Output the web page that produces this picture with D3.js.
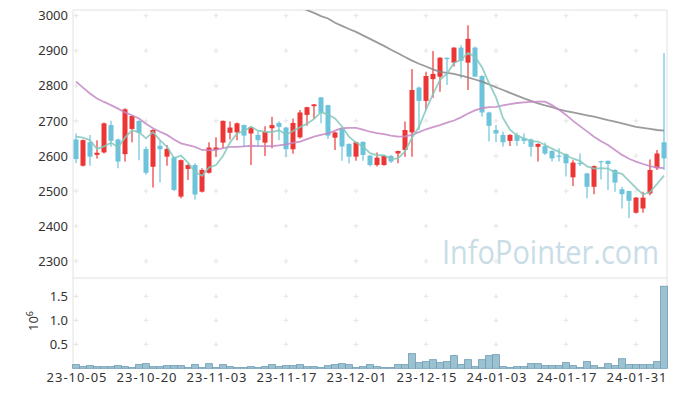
<!DOCTYPE html>
<html>
<head>
<meta charset="utf-8">
<script src="https://cdn.jsdelivr.net/npm/d3@7"></script>
<style>
  body { margin: 0; background: #fff; }
  text { font-family: "Noto Sans", sans-serif; fill: #333; }
</style>
</head>
<body>
<div id="container"></div>
<script>
var width = 677,
    height = 396;

// trading days
var dates = ["23-10-05","23-10-06","23-10-10","23-10-11","23-10-12","23-10-13","23-10-16","23-10-17","23-10-18","23-10-19",
  "23-10-20","23-10-23","23-10-24","23-10-25","23-10-26","23-10-27","23-10-30","23-10-31","23-11-01","23-11-02",
  "23-11-03","23-11-06","23-11-07","23-11-08","23-11-09","23-11-10","23-11-13","23-11-14","23-11-15","23-11-16",
  "23-11-17","23-11-20","23-11-21","23-11-22","23-11-23","23-11-24","23-11-27","23-11-28","23-11-29","23-11-30",
  "23-12-01","23-12-04","23-12-05","23-12-06","23-12-07","23-12-08","23-12-11","23-12-12","23-12-13","23-12-14",
  "23-12-15","23-12-18","23-12-19","23-12-20","23-12-21","23-12-22","23-12-26","23-12-27","23-12-28","24-01-02",
  "24-01-03","24-01-04","24-01-05","24-01-08","24-01-09","24-01-10","24-01-11","24-01-12","24-01-15","24-01-16",
  "24-01-17","24-01-18","24-01-19","24-01-22","24-01-23","24-01-24","24-01-25","24-01-26","24-01-29","24-01-30",
  "24-01-31","24-02-01","24-02-02","24-02-05","24-02-06"];

var open = [2647,2572,2639,2603,2610,2688,2647,2605,2677,2700, 2620,2569,2629,2598,2596,2484,2563,2574,2498,2552,
  2617,2638,2666,2667,2688,2664,2660,2638,2679,2694, 2681,2619,2653,2717,2742,2767,2745,2652,2679,2634,
  2598,2640,2601,2574,2574,2600,2607,2617,2667,2795, 2757,2819,2826,2880,2866,2909,2866,2909,2828,2724,
  2674,2660,2643,2660,2650,2647,2626,2628,2614,2601, 2605,2539,2580,2550,2512,2585,2586,2560,2505,2500,
  2438,2450,2493,2565,2639];
var high = [2664,2647,2660,2645,2695,2700,2650,2736,2716,2702, 2627,2676,2643,2631,2598,2590,2576,2579,2565,2639,
  2653,2701,2698,2695,2690,2685,2671,2685,2712,2699, 2683,2707,2731,2740,2748,2768,2746,2669,2680,2636,
  2641,2642,2603,2610,2602,2603,2615,2698,2848,2798, 2840,2899,2882,2881,2910,2916,2973,2912,2830,2726,
  2688,2669,2662,2666,2664,2650,2636,2638,2616,2622, 2607,2588,2607,2552,2573,2586,2587,2562,2512,2501,
  2483,2498,2590,2617,2893];
var low = [2579,2570,2572,2593,2607,2626,2565,2584,2639,2588, 2546,2510,2524,2572,2500,2479,2531,2476,2496,2550,
  2598,2622,2647,2645,2626,2574,2626,2600,2622,2645, 2598,2606,2650,2686,2706,2693,2648,2617,2586,2579,
  2586,2586,2570,2570,2572,2580,2579,2598,2598,2674, 2731,2766,2783,2802,2855,2821,2788,2826,2712,2641,
  2639,2626,2628,2628,2634,2598,2584,2603,2584,2584, 2541,2514,2571,2479,2491,2533,2503,2498,2450,2422,
  2436,2438,2488,2560,2560];
var close = [2591,2645,2598,2609,2693,2643,2584,2733,2714,2666, 2552,2674,2619,2620,2503,2588,2574,2490,2560,2624,
  2624,2700,2681,2693,2658,2681,2645,2669,2688,2683, 2619,2694,2724,2739,2747,2723,2658,2667,2627,2598,
  2639,2603,2574,2595,2600,2584,2614,2674,2788,2757, 2828,2834,2880,2876,2909,2871,2934,2826,2724,2686,
  2664,2639,2660,2643,2643,2626,2634,2607,2593,2598, 2579,2581,2578,2512,2571,2583,2577,2524,2491,2472,
  2481,2481,2560,2607,2593];

// moving average lines
var ma5 = [2655,2652,2645,2620,2627,2638,2625,2652,2673,2668, 2650,2668,2645,2626,2594,2601,2581,2555,2543,2567,
  2574,2600,2638,2664,2671,2683,2672,2669,2668,2673, 2661,2671,2682,2692,2705,2725,2718,2707,2684,2655,
  2638,2627,2608,2602,2602,2591,2593,2613,2652,2683, 2732,2776,2817,2835,2865,2874,2894,2883,2853,2808,
  2767,2708,2675,2658,2650,2642,2641,2631,2621,2612, 2602,2592,2586,2570,2564,2565,2564,2553,2549,2529,
  2509,2490,2497,2520,2544];
var ma20 = [2812,2795,2778,2764,2754,2745,2735,2724,2716,2707, 2692,2679,2669,2660,2647,2636,2631,2626,2617,2616,
  2617,2622,2626,2626,2627,2629,2628,2628,2628,2630, 2633,2637,2641,2648,2655,2660,2664,2672,2679,2680,
  2680,2675,2669,2665,2662,2658,2655,2656,2660,2668, 2676,2682,2688,2695,2701,2710,2721,2730,2736,2739,
  2740,2744,2748,2751,2753,2754,2755,2755,2745,2732, 2717,2700,2685,2670,2655,2642,2631,2617,2603,2592,
  2584,2577,2571,2567,2565];
var ma60Start = 30;
var ma60 = [3040,3030,3024,3016,3008,2999,2992,2980,2971,2962, 2954,2944,2934,2924,2914,2903,2893,2882,2872,2863,
  2855,2847,2840,2837,2834,2829,2824,2818,2812,2804, 2796,2788,2780,2772,2764,2757,2750,2744,2739,2733,
  2728,2724,2720,2716,2712,2707,2702,2698,2693,2688, 2683,2680,2677,2674,2672];

// volume, millions
var volume = [0.077,0.035,0.056,0.035,0.035,0.035,0.056,0.035,0.014,0.077, 0.097,0.035,0.035,0.056,0.056,0.056,0.014,0.077,0.014,0.097,
  0.014,0.077,0.035,0.014,0.014,0.035,0.014,0.035,0.077,0.035, 0.056,0.056,0.077,0.035,0.035,0.014,0.056,0.077,0.097,0.077,
  0.014,0.035,0.077,0.035,0.014,0.014,0.077,0.077,0.306,0.118, 0.139,0.18,0.118,0.139,0.264,0.077,0.18,0.035,0.18,0.264,
  0.285,0.035,0.014,0.035,0.035,0.097,0.097,0.056,0.056,0.056, 0.118,0.056,0.014,0.139,0.056,0.014,0.097,0.056,0.2,0.077,
  0.077,0.077,0.077,0.139,1.71];

var priceTicks = [2300,2400,2500,2600,2700,2800,2900,3000];
var volTicks = [0.5,1.0,1.5];
var dateTicks = dates.filter(function(d, i) { return i % 10 === 0; });

var pLeft = 73, pRight = 667, pTop = 10, pMid = 278, pBottom = 368;
var up = "#ec3636", down = "#6cc3da";

var svg = d3.select("#container").append("svg")
  .attr("width", width)
  .attr("height", height);

var x = d3.scalePoint().domain(dates).range([76, 664]);
var y = d3.scaleLinear().domain([2300, 3000]).range([261.1, 15.7]);
var yv = d3.scaleLinear().domain([0, 1.5]).range([368.3, 296.3]);

svg.append("defs").append("clipPath").attr("id", "clip")
  .append("rect").attr("x", pLeft).attr("y", pTop).attr("width", pRight - pLeft).attr("height", pMid - pTop);

// frame
var frame = svg.append("g").attr("stroke", "#e2e2e2").attr("fill", "none");
frame.append("line").attr("x1", pLeft).attr("x2", pRight).attr("y1", pTop).attr("y2", pTop);
frame.append("line").attr("x1", pLeft).attr("x2", pRight).attr("y1", pMid).attr("y2", pMid);
frame.append("line").attr("x1", pLeft).attr("x2", pLeft).attr("y1", pTop).attr("y2", pBottom);
frame.append("line").attr("x1", pRight).attr("x2", pRight).attr("y1", pTop).attr("y2", pBottom);
frame.append("line").attr("x1", pLeft).attr("x2", pRight).attr("y1", pBottom).attr("y2", pBottom);

// grid crosses
var crossY = priceTicks.map(function(t) { return y(t); }).concat(volTicks.map(function(t) { return yv(t); }));
var cross = svg.append("g").attr("stroke", "#e4e4e4").attr("stroke-width", 1);
dateTicks.forEach(function(d) {
  crossY.forEach(function(cy) {
    cross.append("line").attr("x1", x(d) - 2.5).attr("x2", x(d) + 2.5).attr("y1", cy).attr("y2", cy);
    cross.append("line").attr("x1", x(d)).attr("x2", x(d)).attr("y1", cy - 2.5).attr("y2", cy + 2.5);
  });
});

// watermark
svg.append("text")
  .attr("x", 442).attr("y", 264)
  .attr("textLength", 217).attr("lengthAdjust", "spacingAndGlyphs")
  .style("font-family", "'Open Sans', sans-serif")
  .style("font-size", "33px")
  .style("fill", "#c9dde7")
  .text("InfoPointer.com");

// axes
var yAxis = svg.append("g").attr("transform", "translate(" + (pLeft - 5) + ",0)")
  .call(d3.axisLeft(y).tickValues(priceTicks).tickSize(0).tickPadding(0).tickFormat(d3.format("d")));
var vAxis = svg.append("g").attr("transform", "translate(" + (pLeft - 5) + ",0)")
  .call(d3.axisLeft(yv).tickValues(volTicks).tickSize(0).tickPadding(0).tickFormat(d3.format(".1f")));
var xAxis = svg.append("g").attr("transform", "translate(0," + (pBottom + 3) + ")")
  .call(d3.axisBottom(x).tickValues(dateTicks).tickSize(0).tickPadding(0));
[yAxis, vAxis, xAxis].forEach(function(a) {
  a.select(".domain").remove();
  a.selectAll("text").style("font-size", "13px").style("font-family", "'Noto Sans', sans-serif").attr("fill", "#333");
});
xAxis.selectAll("text").attr("dy", "0.85em")
  .attr("textLength", 60).attr("lengthAdjust", "spacing");

var unit = svg.append("text")
  .attr("transform", "translate(38,321) rotate(-90)")
  .attr("text-anchor", "middle")
  .style("font-size", "13px");
unit.append("tspan").text("10");
unit.append("tspan").attr("dy", "-5").style("font-size", "9px").text("6");

// volume bars
svg.append("g").selectAll("rect")
  .data(volume).enter().append("rect")
  .attr("x", function(d, i) { return x(dates[i]) - 3.5; })
  .attr("width", 7)
  .attr("y", function(d) { return yv(d); })
  .attr("height", function(d) { return yv(0) - yv(d); })
  .attr("fill", "#9cc2d2")
  .attr("stroke", "#6e9eb5")
  .attr("stroke-width", 0.8);

// candles
var candles = svg.append("g").attr("clip-path", "url(#clip)")
  .selectAll("g").data(dates).enter().append("g");
candles.append("line")
  .attr("x1", function(d) { return x(d); })
  .attr("x2", function(d) { return x(d); })
  .attr("y1", function(d, i) { return y(high[i]); })
  .attr("y2", function(d, i) { return y(low[i]); })
  .attr("stroke", function(d, i) { return close[i] >= open[i] ? up : down; })
  .attr("stroke-width", 1.2);
candles.append("rect")
  .attr("x", function(d) { return x(d) - 2.5; })
  .attr("width", 5)
  .attr("y", function(d, i) { return y(Math.max(open[i], close[i])); })
  .attr("height", function(d, i) { return Math.max(1.2, Math.abs(y(open[i]) - y(close[i]))); })
  .attr("fill", function(d, i) { return close[i] >= open[i] ? up : down; });

// moving averages
var lines = svg.append("g").attr("clip-path", "url(#clip)").attr("fill", "none");
var line = d3.line().x(function(d) { return x(d[0]); }).y(function(d) { return y(d[1]); });
lines.append("path")
  .attr("d", line(ma60.map(function(v, i) { return [dates[i + ma60Start], v]; })))
  .attr("stroke", "#8a8a8a").attr("stroke-width", 1.8).attr("stroke-opacity", 0.85);
lines.append("path")
  .attr("d", line(ma20.map(function(v, i) { return [dates[i], v]; })))
  .attr("stroke", "#c488c4").attr("stroke-width", 1.8).attr("stroke-opacity", 0.85);
lines.append("path")
  .attr("d", line(ma5.map(function(v, i) { return [dates[i], v]; })))
  .attr("stroke", "#84c8bc").attr("stroke-width", 1.8).attr("stroke-opacity", 0.85);
</script>
</body>
</html>
